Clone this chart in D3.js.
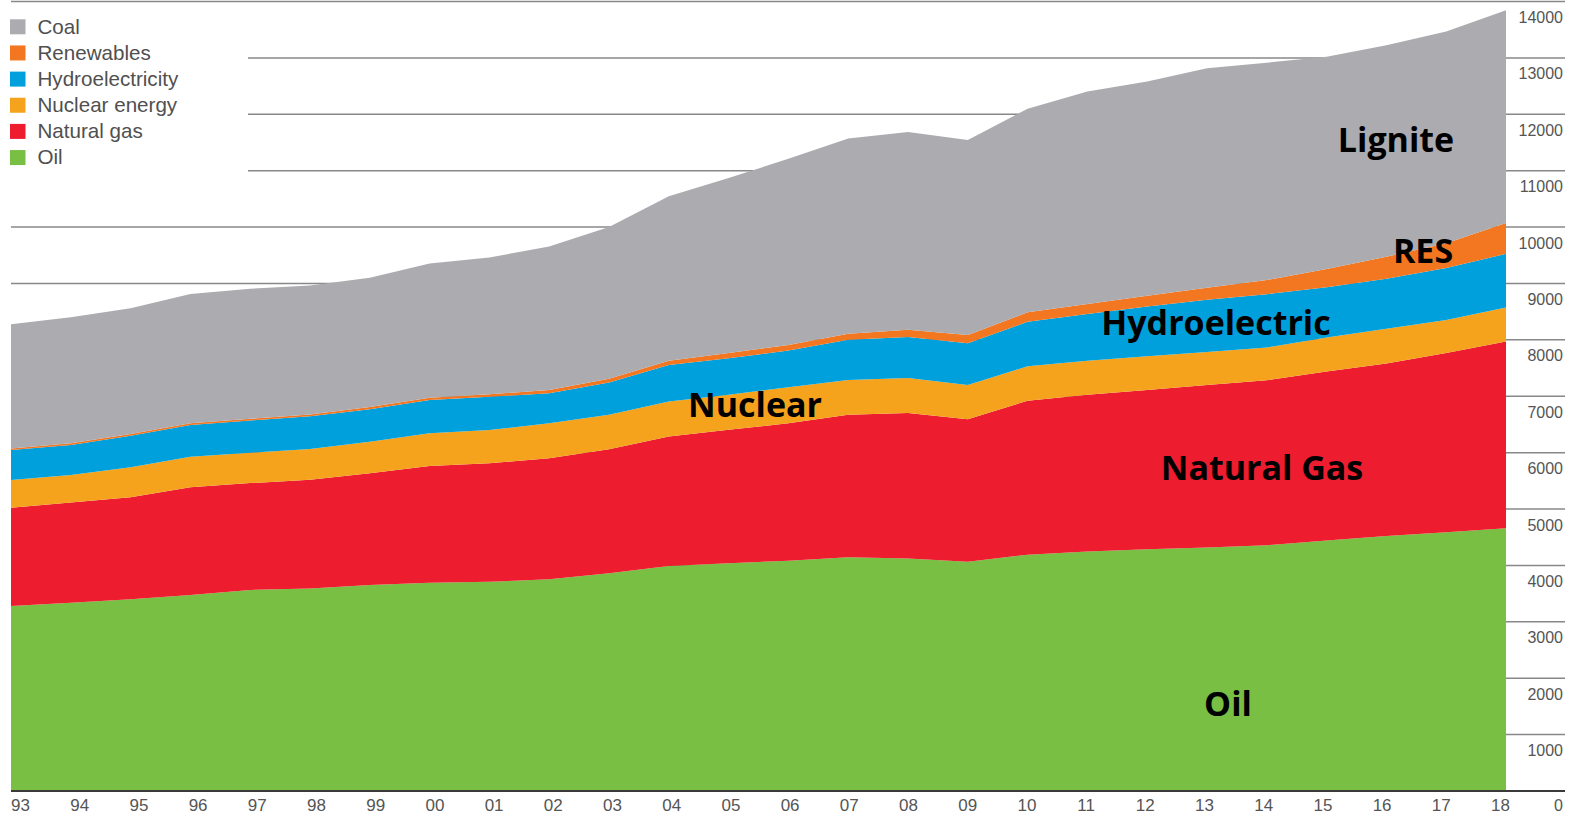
<!DOCTYPE html>
<html>
<head>
<meta charset="utf-8">
<script src="https://cdn.jsdelivr.net/npm/d3@7"></script>
<style>
  body { margin: 0; background: #fff; }
  svg { display: block; }
</style>
</head>
<body>
<div id="chart"></div>
<script>
// values (stacked bottom -> top)
const years = ["93","94","95","96","97","98","99","00","01","02","03","04","05","06","07","08","09","10","11","12","13","14","15","16","17","18"];
const oil        = [3280,3340,3400,3475,3565,3590,3655,3695,3710,3755,3860,3990,4040,4085,4145,4125,4065,4190,4245,4285,4320,4360,4440,4520,4590,4660];
const gas        = [1745,1775,1810,1910,1895,1930,1980,2070,2100,2145,2200,2295,2365,2435,2525,2580,2525,2730,2780,2825,2880,2925,3000,3060,3175,3310];
const nuclear    = [490,490,530,540,540,545,560,580,590,620,610,620,620,640,620,620,610,610,605,600,585,580,600,615,585,605];
const hydro      = [530,530,560,565,570,580,575,590,590,535,575,650,650,650,710,725,740,790,830,880,925,945,895,890,925,950];
const renewables = [30,30,30,30,30,30,40,40,45,55,65,75,90,100,110,130,145,170,175,190,215,250,320,390,440,545];
const coal       = [2200,2235,2230,2295,2305,2290,2290,2380,2425,2545,2690,2915,3105,3300,3460,3505,3460,3610,3770,3800,3890,3855,3765,3750,3755,3775];

const keys = ["oil","gas","nuclear","hydro","renewables","coal"];
const legendNames = ["Coal","Renewables","Hydroelectricity","Nuclear energy","Natural gas","Oil"];
const yTicks = [0,1000,2000,3000,4000,5000,6000,7000,8000,9000,10000,11000,12000,13000,14000];

const colors = {
  oil: "#78bf43", gas: "#ed1c2e", nuclear: "#f5a31d",
  hydro: "#00a0dc", renewables: "#f37721", coal: "#acabb0"
};
const legendKeys = ["coal","renewables","hydro","nuclear","gas","oil"];

const width = 1576, height = 818;

let table = years.map(function(yr, i) {
  return { year: yr, oil: oil[i], gas: gas[i], nuclear: nuclear[i],
           hydro: hydro[i], renewables: renewables[i], coal: coal[i] };
});

const svg = d3.select("#chart")
  .append("svg")
  .attr("width", width)
  .attr("height", height);

const x = d3.scalePoint().domain(years).range([11, 1506]);
const xLab = d3.scalePoint().domain(years).range([20, 1500]);
const y = d3.scaleLinear().domain([0, 14000]).range([791, 1.5]);

// grid lines (shorter ones next to the legend)
svg.append("g")
  .selectAll("line")
  .data(yTicks.filter(d => d > 0))
  .enter()
  .append("line")
  .attr("x1", d => (d >= 11000 && d <= 13000) ? 248 : 11)
  .attr("x2", 1565)
  .attr("y1", d => y(d))
  .attr("y2", d => y(d))
  .attr("stroke", "#888")
  .attr("stroke-width", 1.5);

// stacked areas
const stack = d3.stack().keys(keys);
const layers = stack(table);

const area = d3.area()
  .x(d => x(d.data.year))
  .y0(d => y(d[0]))
  .y1(d => y(d[1]));

svg.append("g")
  .selectAll("path")
  .data(layers)
  .enter()
  .append("path")
  .attr("d", area)
  .attr("fill", d => colors[d.key]);

// baseline
svg.append("line")
  .attr("x1", 11).attr("x2", 1565)
  .attr("y1", y(0)).attr("y2", y(0))
  .attr("stroke", "#3a3a3a")
  .attr("stroke-width", 2.2);

// right-hand value labels, sitting below each grid line
svg.append("g")
  .selectAll("text")
  .data(yTicks)
  .enter()
  .append("text")
  .attr("x", 1563)
  .attr("y", d => d === 0 ? y(d) + 20 : y(d) + 21.5)
  .attr("text-anchor", "end")
  .attr("font-family", "Liberation Sans, Arial, sans-serif")
  .attr("font-size", "16px")
  .attr("fill", "#555")
  .text(d => d);

// year labels
const xAxis = svg.append("g")
  .attr("transform", "translate(0," + y(0) + ")")
  .call(d3.axisBottom(xLab).tickSize(0));
xAxis.select(".domain").remove();
xAxis.selectAll("text")
  .attr("y", 20)
  .attr("dy", null)
  .attr("font-family", "Liberation Sans Narrow, Arial Narrow, Liberation Sans, sans-serif")
  .attr("font-size", "17px")
  .attr("fill", "#555");

// legend
const legend = svg.append("g");
legendKeys.forEach(function(k, i) {
  legend.append("rect")
    .attr("x", 10)
    .attr("y", 19.3 + i * 26.15)
    .attr("width", 15.5)
    .attr("height", 15)
    .attr("fill", colors[k]);
  legend.append("text")
    .attr("x", 37.5)
    .attr("y", 33.5 + i * 26.15)
    .attr("font-family", "Liberation Sans, Arial, sans-serif")
    .attr("font-size", "20.6px")
    .attr("fill", "#505050")
    .text(legendNames[i]);
});

// big labels on the areas
const areaLabels = [
  { text: "Lignite", x: 1396, y: 151.5 },
  { text: "RES", x: 1423, y: 263 },
  { text: "Hydroelectric", x: 1216, y: 335 },
  { text: "Nuclear", x: 755, y: 416.5 },
  { text: "Natural Gas", x: 1262, y: 480 },
  { text: "Oil", x: 1228, y: 716 }
];
svg.append("g")
  .selectAll("text")
  .data(areaLabels)
  .enter()
  .append("text")
  .attr("x", d => d.x)
  .attr("y", d => d.y)
  .attr("text-anchor", "middle")
  .attr("font-family", "Open Sans, sans-serif")
  .attr("font-weight", 700)
  .attr("font-size", "34px")
  .attr("fill", "#000")
  .text(d => d.text);
</script>
</body>
</html>
